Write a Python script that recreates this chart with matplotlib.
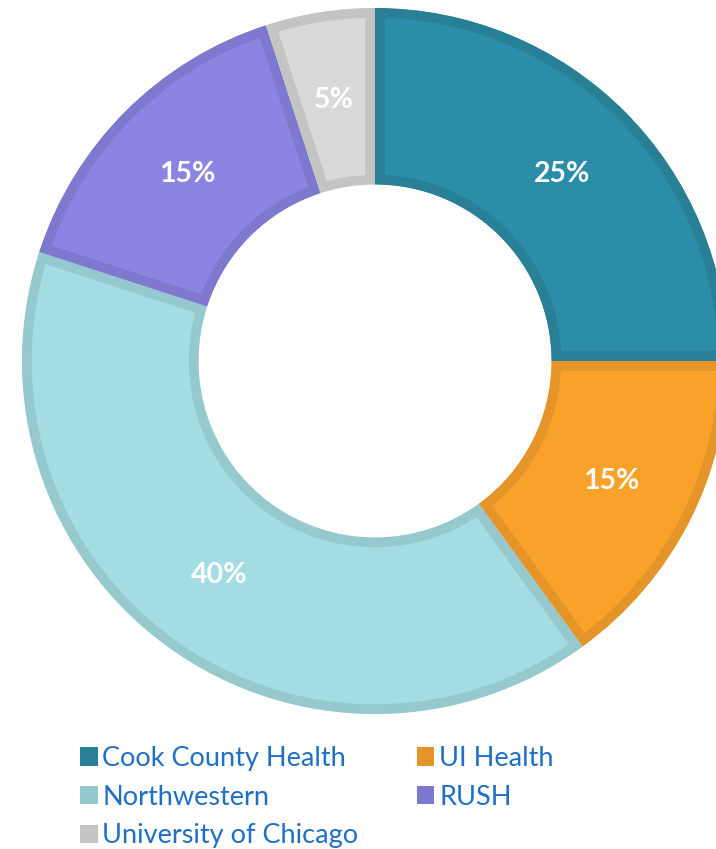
import matplotlib.pyplot as plt
from matplotlib.patches import Patch

plt.rcParams['font.family'] = ['Lato', 'DejaVu Sans']

labels = ['Cook County Health', 'UI Health', 'Northwestern', 'RUSH', 'University of Chicago']
shares = [25, 15, 40, 15, 5]
fills = ['#2B8DA8', '#F9A22A', '#A3DDE3', '#8C84E3', '#D9DAD8']
edges = ['#287F96', '#E5942A', '#95C9CD', '#7E78CE', '#C4C4C2']

fig = plt.figure(figsize=(7.16, 8.49), dpi=100)
# donut centre at (375, 361) px, radius 353 px
ax = fig.add_axes([22 / 716, 135 / 849, 706 / 716, 706 / 849])

wedges, texts, autotexts = ax.pie(
    shares, colors=fills, startangle=90, counterclock=False,
    radius=1, autopct='%d%%', pctdistance=0.75,
    wedgeprops=dict(width=0.5, linewidth=0),
    textprops=dict(color='white', fontsize=20.5, fontweight='bold'))

# border drawn only on the inside of each wedge
for w, ec in zip(wedges, edges):
    w.set_edgecolor(ec)
    w.set_linewidth(14)
    w.set_clip_on(True)
    w.set_clip_path(w.get_path(), w.get_transform())

ax.set_xlim(-1, 1)
ax.set_ylim(-1, 1)
ax.set_aspect('equal')
ax.axis('off')

order = [0, 2, 4, 1, 3]
handles = [Patch(facecolor=edges[i], edgecolor='none') for i in order]
leg = fig.legend(handles, [labels[i] for i in order], ncol=2,
                 loc='upper left', bbox_to_anchor=(80 / 716, 1 - 746 / 849),
                 frameon=False, fontsize=19.5, handlelength=0.65, handleheight=0.65,
                 handletextpad=0.18, columnspacing=2.15, labelspacing=0.5,
                 borderpad=0, borderaxespad=0)
for t in leg.get_texts():
    t.set_color('#1F6FC6')

fig.savefig('out.png', dpi=100)
